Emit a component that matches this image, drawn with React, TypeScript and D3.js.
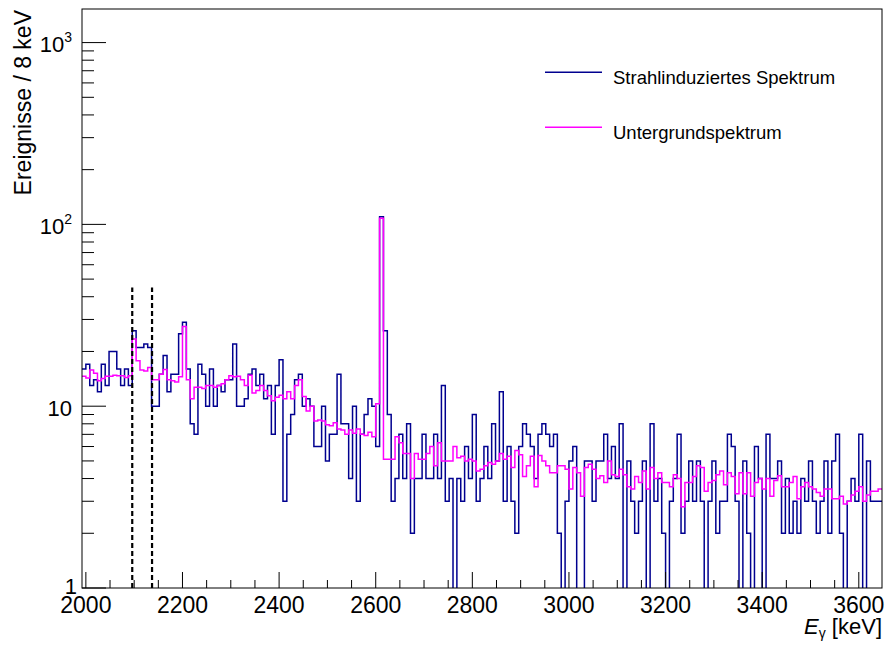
import React from "react";
import * as d3 from "d3";

// Histogram binning (keV)
const binStart = 1992;
const binWidth = 8;

// Beam-induced spectrum (counts per 8 keV bin)
const beamCounts = [
  16, 17, 13, 14, 12, 17, 13, 20, 20, 16, 13, 16, 13, 26, 21, 21, 22, 21, 10, 10,
  15, 19, 12, 15, 15, 25, 29, 16, 8, 7, 17, 15, 10, 16, 10, 13, 12, 14, 14, 22,
  10, 10, 11, 15, 16, 13, 15, 11, 13, 7, 13, 18, 3, 7, 9, 14, 15, 10, 11, 10,
  6, 6, 10, 5, 7, 7, 15, 8, 8, 4, 10, 3, 7, 9, 11, 10, 6, 110, 26, 9,
  3, 4, 7, 4, 8, 2, 4, 4, 7, 4, 4, 7, 4, 13, 3, 4, 0, 4, 3, 6,
  4, 9, 3, 4, 6, 4, 8, 5, 12, 3, 6, 3, 2, 6, 8, 7, 6, 4, 7, 8,
  7, 6, 7, 2, 0, 3, 5, 6, 0, 0, 5, 5, 3, 5, 5, 7, 4, 6, 4, 8,
  0, 5, 3, 2, 3, 5, 0, 8, 3, 4, 2, 0, 3, 4, 7, 2, 3, 5, 3, 5,
  3, 0, 3, 5, 2, 3, 3, 7, 6, 3, 0, 5, 2, 0, 6, 4, 0, 7, 4, 4,
  5, 2, 4, 2, 3, 2, 4, 3, 5, 3, 2, 3, 5, 2, 5, 7, 2, 0, 3, 4,
  3, 7, 0, 5, 3, 3, 3,
];

// Scaled background spectrum
const backgroundCounts = [
  14.6, 14.3, 15.8, 15.2, 13.8, 14.2, 14.6, 14.6, 14.8, 14.7, 14.7, 14.4, 14.7, 23.4, 17.8, 15.8, 15.6, 16.3, 14.0, 14.0,
  15.0, 15.9, 14.0, 13.8, 13.6, 14.5, 27.4, 14.0, 11.0, 12.7, 12.7, 12.5, 13.0, 13.0, 12.7, 13.0, 13.3, 14.0, 14.7, 14.5,
  14.6, 14.0, 13.0, 14.8, 11.8, 12.2, 13.0, 12.2, 11.4, 10.7, 11.2, 11.5, 11.0, 12.0, 11.0, 13.0, 14.0, 11.3, 9.4, 10.0,
  8.3, 8.4, 8.3, 7.9, 7.8, 8.1, 7.5, 7.4, 7.0, 7.4, 7.1, 7.5, 7.0, 6.9, 7.2, 6.8, 10.3, 108, 5.1, 5.1,
  5.1, 6.8, 6.3, 5.5, 5.5, 4.0, 5.5, 5.1, 5.1, 5.5, 6.0, 4.7, 6.3, 5.0, 5.0, 5.0, 6.0, 5.2, 5.3, 5.0,
  5.1, 5.0, 4.4, 4.5, 4.7, 4.9, 4.8, 5.0, 5.5, 5.1, 5.3, 4.6, 5.7, 5.4, 4.1, 4.7, 5.3, 3.6, 5.35, 5.0,
  4.7, 4.3, 4.3, 4.7, 4.7, 4.5, 3.5, 4.6, 4.3, 3.2, 4.6, 4.8, 4.5, 4.0, 4.15, 3.8, 5.0, 4.2, 4.1, 4.5,
  4.2, 3.6, 3.5, 4.1, 3.8, 4.4, 3.5, 4.6, 4.0, 4.3, 3.8, 3.8, 3.6, 4.2, 4.0, 2.8, 3.8, 3.8, 4.1, 4.7,
  4.6, 3.4, 3.8, 3.9, 4.2, 4.4, 3.7, 4.3, 4.1, 3.3, 4.3, 3.3, 4.3, 3.2, 3.8, 4.0, 3.5, 4.0, 3.2, 3.9,
  4.15, 3.6, 3.6, 3.8, 4.1, 3.1, 3.6, 3.8, 3.6, 3.5, 3.35, 3.2, 3.5, 3.5, 3.1, 3.1, 3.2, 2.9, 3.0, 3.25,
  3.4, 3.6, 3.0, 3.25, 3.4, 3.4, 3.5,
];

// Axis ticks and annotations
const xMajorTicks = [2000, 2200, 2400, 2600, 2800, 3000, 3200, 3400, 3600];
const yDecades = [1, 10, 100, 1000];
const windowLines = [2096, 2137];
const windowTop = 45;
const legendLabels = ["Strahlinduziertes Spektrum", "Untergrundspektrum"];
const colors = ["#00008f", "#ff00ff"];

const W = 891;
const H = 646;
const L = 82, R = 882, T = 9, B = 588;
const FONT = "'Liberation Sans', Arial, Helvetica, sans-serif";

export default function App() {
  const xMax = binStart + binWidth * beamCounts.length;
  const x = d3.scaleLinear().domain([binStart, xMax]).range([L, R]);
  const y = d3.scaleLog().domain([1, 1530]).range([B, T]);
  const yv = (v: number) => (v > 0 ? y(v) : B + 20);

  const stepPath = (vals: number[]) => {
    let d = "";
    vals.forEach((v, i) => {
      const x0 = x(binStart + i * binWidth);
      const x1 = x(binStart + (i + 1) * binWidth);
      const yy = yv(v);
      d += i === 0 ? `M${x0},${yy}H${x1}` : `V${yy}H${x1}`;
    });
    return d;
  };

  const xMinor: number[] = [];
  for (let e = 2000; e <= xMax; e += 50) if (!xMajorTicks.includes(e)) xMinor.push(e);
  const yMinor: number[] = [];
  yDecades.forEach((dec) => {
    for (let m = 2; m <= 9; m++) {
      const v = dec * m;
      if (v < 1530) yMinor.push(v);
    }
  });

  return (
    <svg width={W} height={H} style={{ position: "absolute", left: 0, top: 0, background: "#fff" }} fontFamily={FONT}>
      <defs>
        <clipPath id="plotclip">
          <rect x={L} y={T} width={R - L} height={B - T} />
        </clipPath>
      </defs>
      <rect x={0} y={0} width={W} height={H} fill="#fff" />

      <g clipPath="url(#plotclip)">
        <path d={stepPath(beamCounts)} fill="none" stroke={colors[0]} strokeWidth={1.5} />
        <path d={stepPath(backgroundCounts)} fill="none" stroke={colors[1]} strokeWidth={1.5} />
      </g>

      {windowLines.map((e) => (
        <line key={e} x1={x(e)} x2={x(e)} y1={B} y2={y(windowTop)} stroke="#000" strokeWidth={2.2} strokeDasharray="5,3" />
      ))}

      {/* frame */}
      <rect x={L} y={T} width={R - L} height={B - T} fill="none" stroke="#000" strokeWidth={1} />

      {/* x ticks */}
      {xMajorTicks.map((t) => (
        <g key={t}>
          <line x1={x(t)} x2={x(t)} y1={B} y2={B - 16} stroke="#000" strokeWidth={1} />
          <text x={x(t)} y={613} fontSize={23} textAnchor="middle">{t}</text>
        </g>
      ))}
      {xMinor.map((t) => (
        <line key={t} x1={x(t)} x2={x(t)} y1={B} y2={B - 8} stroke="#000" strokeWidth={1} />
      ))}

      {/* y ticks */}
      {yDecades.map((t) => (
        <line key={t} x1={L} x2={L + 24} y1={y(t)} y2={y(t)} stroke="#000" strokeWidth={1} />
      ))}
      {yMinor.map((t) => (
        <line key={t} x1={L} x2={L + 12} y1={y(t)} y2={y(t)} stroke="#000" strokeWidth={1} />
      ))}
      <text x={77} y={594} fontSize={22} textAnchor="end">1</text>
      <text x={72} y={y(10) + 10} fontSize={22} textAnchor="end">10</text>
      <text x={72} y={y(100) + 9.5} fontSize={22} textAnchor="end">
        10<tspan fontSize={14} dy={-10}>2</tspan>
      </text>
      <text x={72} y={y(1000) + 9.5} fontSize={22} textAnchor="end">
        10<tspan fontSize={14} dy={-10}>3</tspan>
      </text>

      {/* axis titles */}
      <text x={882} y={634} fontSize={22} textAnchor="end">
        <tspan fontStyle="italic">E</tspan>
        <tspan fontSize={14} dy={4}>γ</tspan>
        <tspan dy={-4}> [keV]</tspan>
      </text>
      <text transform="translate(31,10) rotate(-90)" fontSize={23} textAnchor="end">Ereignisse / 8 keV</text>

      {/* legend */}
      {legendLabels.map((lab, i) => {
        const ly = i === 0 ? 72.3 : 127.3;
        return (
          <g key={lab}>
            <line x1={545} x2={602} y1={ly} y2={ly} stroke={colors[i]} strokeWidth={1.5} />
            <text x={613} y={ly + 11.5} fontSize={18.5}>{lab}</text>
          </g>
        );
      })}
    </svg>
  );
}
